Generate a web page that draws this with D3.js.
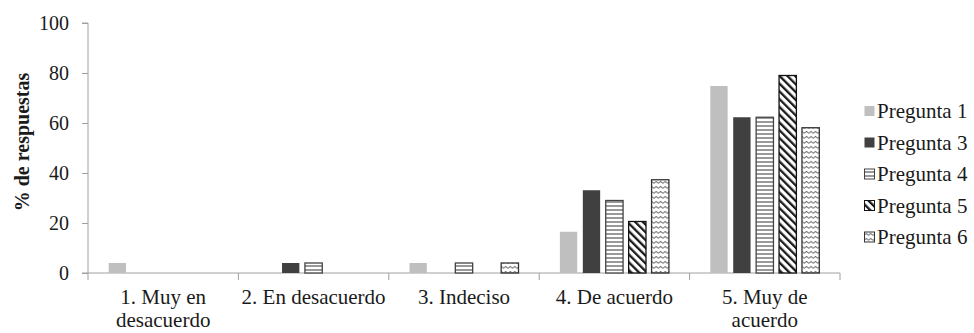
<!DOCTYPE html>
<html>
<head>
<meta charset="utf-8">
<script src="https://cdn.jsdelivr.net/npm/d3@7"></script>
<style>
  html, body { margin: 0; padding: 0; background: #fff; }
  svg { display: block; }
  svg text { font-family: "Times New Roman", "Liberation Serif", serif; fill: #1a1a1a; }
</style>
</head>
<body>
<svg id="chart" width="974" height="333"></svg>
<script>
// Response categories (x axis), one label line per entry
const categories = [
  ["1. Muy en", "desacuerdo"],
  ["2. En desacuerdo"],
  ["3. Indeciso"],
  ["4. De acuerdo"],
  ["5. Muy de", "acuerdo"]
];
const seriesNames = ["Pregunta 1", "Pregunta 3", "Pregunta 4", "Pregunta 5", "Pregunta 6"];

// Percentage of responses per category, one array per question
const pregunta1 = [4.2, 0, 4.2, 16.7, 75.0];
const pregunta3 = [0, 4.2, 0, 33.3, 62.5];
const pregunta4 = [0, 4.2, 4.2, 29.2, 62.5];
const pregunta5 = [0, 0, 0, 20.8, 79.2];
const pregunta6 = [0, 0, 4.2, 37.5, 58.3];
const seriesValues = [pregunta1, pregunta3, pregunta4, pregunta5, pregunta6];

const yTicks = [0, 20, 40, 60, 80, 100];

const svg = d3.select("#chart");
const margin = { left: 88, right: 134, top: 23, bottom: 60 };
const W = 974, H = 333;
const plotW = W - margin.left - margin.right;
const plotH = H - margin.top - margin.bottom;

// Fill patterns for the hatched series
const defs = svg.append("defs");

const pH = defs.append("pattern").attr("id", "p-horiz")
  .attr("patternUnits", "userSpaceOnUse").attr("width", 6).attr("height", 4);
pH.append("rect").attr("width", 6).attr("height", 4).attr("fill", "#fff");
pH.append("line").attr("x1", 0).attr("x2", 6).attr("y1", 2).attr("y2", 2)
  .attr("stroke", "#333").attr("stroke-width", 1);

const pD = defs.append("pattern").attr("id", "p-diag")
  .attr("patternUnits", "userSpaceOnUse").attr("width", 5.5).attr("height", 5.5)
  .attr("patternTransform", "rotate(-45)");
pD.append("rect").attr("width", 5.5).attr("height", 5.5).attr("fill", "#fff");
pD.append("rect").attr("x", 0).attr("y", 0).attr("width", 2.3).attr("height", 5.5).attr("fill", "#1a1a1a");

const pW = defs.append("pattern").attr("id", "p-wave")
  .attr("patternUnits", "userSpaceOnUse").attr("width", 4.5).attr("height", 5);
pW.append("rect").attr("width", 4.5).attr("height", 5).attr("fill", "#fff");
pW.append("path").attr("d", "M0,3.5 L2.25,1.5 L4.5,3.5")
  .attr("fill", "none").attr("stroke", "#707070").attr("stroke-width", 1);

const styles = [
  { fill: "#bfbfbf", stroke: "none" },
  { fill: "#404040", stroke: "none" },
  { fill: "url(#p-horiz)", stroke: "#444" },
  { fill: "url(#p-diag)", stroke: "#111" },
  { fill: "url(#p-wave)", stroke: "#333" }
];

const x0 = d3.scaleBand().domain(d3.range(categories.length))
  .range([margin.left, margin.left + plotW]).paddingInner(0).paddingOuter(0);
const groupW = 110;
const x1 = d3.scaleBand().domain(d3.range(seriesNames.length))
  .range([0, groupW]).paddingInner(0.2).paddingOuter(0);
const y = d3.scaleLinear().domain([0, 100]).range([margin.top + plotH, margin.top]);

const axisColor = "#a0a0a0";

// Y axis
const yAxis = svg.append("g").attr("transform", `translate(${margin.left},0)`)
  .call(d3.axisLeft(y).tickValues(yTicks).tickSize(6).tickPadding(13));
yAxis.attr("font-family", null);
yAxis.select(".domain").attr("stroke", axisColor).attr("d",
  `M-6,${y(100)}H0V${y(0) + 7}`);
yAxis.selectAll(".tick line").attr("stroke", axisColor);
yAxis.selectAll(".tick text").attr("font-size", 20).attr("fill", "#1a1a1a");

// X axis line with ticks between categories
const xg = svg.append("g");
const base = y(0);
xg.append("line").attr("x1", margin.left - 6).attr("x2", margin.left + plotW)
  .attr("y1", base).attr("y2", base).attr("stroke", axisColor);
const bounds = d3.range(1, categories.length + 1).map(i =>
  i < categories.length ? x0(i) : x0(categories.length - 1) + x0.bandwidth());
xg.selectAll("line.tk").data(bounds).join("line").attr("class", "tk")
  .attr("x1", d => d).attr("x2", d => d).attr("y1", base).attr("y2", base + 7)
  .attr("stroke", axisColor);

xg.selectAll("text.cat").data(categories).join("text").attr("class", "cat")
  .attr("text-anchor", "middle").attr("font-size", 21)
  .attr("x", (d, i) => x0(i) + x0.bandwidth() / 2)
  .attr("y", base + 31)
  .each(function (lines) {
    d3.select(this).selectAll("tspan").data(lines).join("tspan")
      .attr("x", d3.select(this).attr("x"))
      .attr("dy", (d, k) => k === 0 ? 0 : 23)
      .text(d => d);
  });

// Bars
const groups = svg.append("g").selectAll("g").data(categories).join("g")
  .attr("transform", (d, i) => `translate(${x0(i) + (x0.bandwidth() - groupW) / 2},0)`);
groups.selectAll("rect").data((d, i) => seriesValues.map((s, k) => ({ k, v: s[i] })))
  .join("rect")
  .filter(d => d.v > 0)
  .attr("x", d => x1(d.k) + 0.5)
  .attr("width", x1.bandwidth() - 1)
  .attr("y", d => y(d.v) + 0.5)
  .attr("height", d => y(0) - y(d.v) - 0.5)
  .attr("fill", d => styles[d.k].fill)
  .attr("stroke", d => styles[d.k].stroke)
  .attr("stroke-width", 1.3);

// Y axis title
svg.append("text")
  .attr("transform", `translate(29,${(y(0) + y(100)) / 2 - 6}) rotate(-90)`)
  .attr("text-anchor", "middle").attr("font-size", 20).attr("font-weight", "bold")
  .text("% de respuestas");

// Legend
const legend = svg.append("g").attr("transform", "translate(864,111)");
const li = legend.selectAll("g").data(seriesNames).join("g")
  .attr("transform", (d, i) => `translate(0,${i * 31.5})`);
li.append("rect").attr("x", 0.5).attr("y", -5).attr("width", 10).attr("height", 10)
  .attr("fill", (d, i) => styles[i].fill)
  .attr("stroke", (d, i) => styles[i].stroke).attr("stroke-width", 1);
li.append("text").attr("x", 13).attr("y", 7).attr("font-size", 21).text(d => d);
</script>
</body>
</html>
